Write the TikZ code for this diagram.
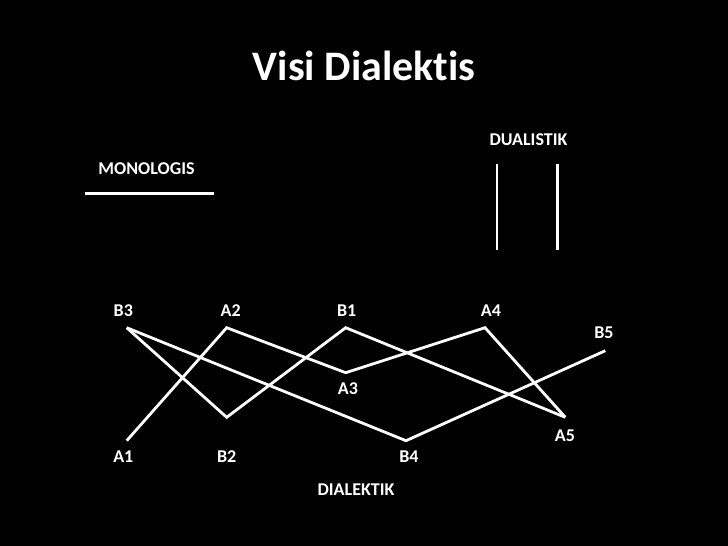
\documentclass[tikz,border=0pt]{standalone}
\usepackage{fontspec}
\setmainfont[Ligatures=NoCommon]{Carlito}
\begin{document}
\begin{tikzpicture}[x=1pt,y=-1pt,
  lbl/.style={text=white,font=\bfseries\fontsize{18}{20}\selectfont,inner sep=0pt,anchor=center},
  ttl/.style={text=white,font=\bfseries\fontsize{42}{48}\selectfont,inner sep=0pt,anchor=center},
  wline/.style={draw=white,line width=2.8pt}]
\fill[black] (0,0) rectangle (728,546);
\useasboundingbox (0,0) rectangle (728,546);
% title
\node[ttl] (title) at (364,66) {Visi Dialektis};
% monologis
\node[lbl] (mono) at (146.5,168.3) {MONOLOGIS};
\coordinate (m1) at (85,193.3);
\coordinate (m2) at (214,193.3);
\draw[wline] (m1) -- (m2);
% dualistik
\node[lbl] (dual) at (528.5,140) {DUALISTIK};
\coordinate (d1t) at (497,164.3);
\coordinate (d1b) at (497,250);
\coordinate (d2t) at (557.3,164.3);
\coordinate (d2b) at (557.3,250);
\draw[wline] (d1t) -- (d1b);
\draw[wline] (d2t) -- (d2b);
% dialektik points
\coordinate (pB3) at (126.7,327.7);
\coordinate (pA2) at (226.7,327.7);
\coordinate (pB1) at (345.7,327.7);
\coordinate (pA4) at (485,327.7);
\coordinate (pB5) at (605.3,350.7);
\coordinate (pA3) at (345.7,372.7);
\coordinate (pB2) at (226.7,417.3);
\coordinate (pA5) at (565.3,417.3);
\coordinate (pA1) at (126.7,440.7);
\coordinate (pB4) at (406,440.7);
% connectors
\draw[wline] (pA1) -- (pA2) -- (pA3) -- (pA4) -- (pA5);
\draw[wline] (pB3) -- (pB2) -- (pB1) -- (pA5);
\draw[wline] (pB3) -- (pB4) -- (pB5);
% labels
\node[lbl] (lB3) at (123.3,310.7) {B3};
\node[lbl] (lA2) at (230.7,310.7) {A2};
\node[lbl] (lB1) at (346.7,310.7) {B1};
\node[lbl] (lA4) at (491,310.7) {A4};
\node[lbl] (lB5) at (604,332.7) {B5};
\node[lbl] (lA3) at (348,389) {A3};
\node[lbl] (lA5) at (565,436) {A5};
\node[lbl] (lA1) at (123.3,456.7) {A1};
\node[lbl] (lB2) at (226.7,456.7) {B2};
\node[lbl] (lB4) at (409,456.7) {B4};
\node[lbl] (dia) at (356,489.7) {DIALEKTIK};
\end{tikzpicture}
\end{document}
